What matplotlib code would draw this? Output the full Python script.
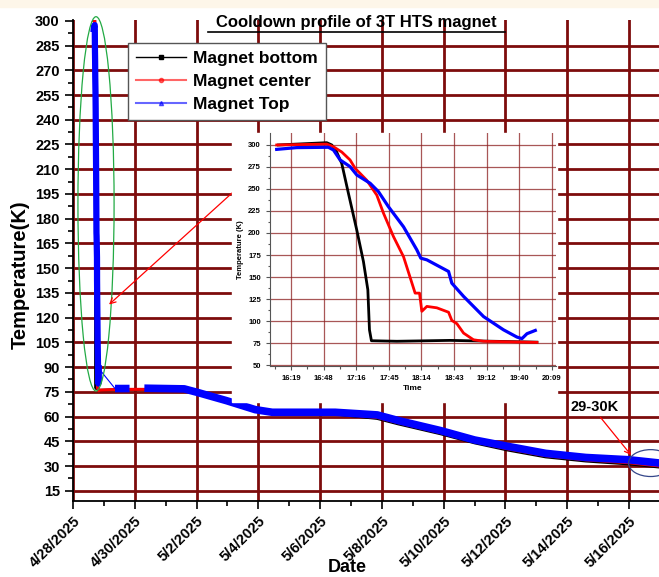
import matplotlib.pyplot as plt
from matplotlib.lines import Line2D
from matplotlib.patches import Ellipse, Rectangle
import numpy as np

plt.rcParams['font.family'] = ['Liberation Sans', 'DejaVu Sans']
plt.rcParams['font.weight'] = 'bold'

# cooldown on 4/28 (day fraction)
t_bottom = [0.6722, 0.6835, 0.7019, 0.7050, 0.7080, 0.7111, 0.7152, 0.7203, 0.7244, 0.7271, 0.7281, 0.7293, 0.7449, 0.7776, 0.8308]
T_bottom = [300, 301, 302.6, 300, 292, 279, 245, 203.5, 167.6, 135.5, 90, 77.6, 77, 78, 76]
t_center = [0.6712, 0.7019, 0.7060, 0.7111, 0.7162, 0.7193, 0.7264, 0.7326, 0.7367, 0.7428, 0.7490, 0.7561, 0.7588, 0.7602, 0.7633, 0.7694, 0.7766, 0.7786, 0.7817, 0.7858, 0.7919, 0.7981, 0.8308]
T_center = [300, 301, 298, 292, 283, 273.5, 260, 243, 222.5, 196, 173, 131.7, 131.7, 111, 116.6, 115, 110, 100.7, 97, 86.3, 78.7, 77, 75.7]
t_top = [0.6712, 0.6835, 0.7029, 0.7060, 0.7101, 0.7162, 0.7203, 0.7285, 0.7336, 0.7397, 0.7490, 0.7571, 0.7596, 0.7633, 0.7766, 0.7786, 0.7858, 0.7981, 0.8103, 0.8185, 0.8216, 0.8247, 0.8298]
T_top = [295, 297, 297.4, 294.3, 283, 275.4, 266, 256.5, 247, 230, 207, 181, 171.4, 169.5, 156.3, 143, 128, 105, 90, 81.8, 80, 85.6, 89.3]

# long term (days since 4/28/2025)
d_top = [1.36, 1.83, np.nan, 2.31, 3.6, 4.0, 4.96, 5.9, 6.45, 8.49, 9.85, 10.53, 11.9, 13.0, 14.06, 15.3, 16.6, 18.0, 19.0]
L_top = [77.0, 77.0, np.nan, 77.2, 76.8, 74.8, 69.7, 64.2, 62.6, 62.6, 61.0, 57.6, 51.5, 45.8, 42.0, 37.7, 35.2, 33.8, 31.8]
d_center = [0.85, 1.4, 2.3, 3.6, 4.0, 4.96, 5.9, 6.45, 8.49, 9.85, 10.53, 11.9, 13.0, 14.06, 15.3, 16.6, 18.0, 19.0]
L_center = [76.0, 76.5, 76.5, 76.5, 74.5, 69.3, 63.8, 62.0, 61.8, 59.5, 56.3, 50.3, 44.8, 40.5, 36.3, 33.8, 32.0, 30.0]
d_bottom = [0.85, 1.4, 2.3, 3.6, 4.0, 4.96, 5.9, 6.45, 8.49, 9.85, 10.53, 11.9, 13.0, 14.06, 15.3, 16.6, 18.0, 19.0]
L_bottom = [76.0, 76.3, 76.3, 76.3, 74.3, 69.0, 63.5, 61.8, 61.5, 58.8, 55.5, 49.5, 44.0, 39.7, 35.5, 33.0, 31.2, 29.3]

date_ticks = [0, 2, 4, 6, 8, 10, 12, 14, 16, 18]
date_labels = ['4/28/2025', '4/30/2025', '5/2/2025', '5/4/2025', '5/6/2025', '5/8/2025',
               '5/10/2025', '5/12/2025', '5/14/2025', '5/16/2025']
time_ticks = [0.68, 0.70, 0.72, 0.74, 0.76, 0.78, 0.80, 0.82, 0.84]
time_labels = ['16:19', '16:48', '17:16', '17:45', '18:14', '18:43', '19:12', '19:40', '20:09']

grid_c = '#7d0c0c'

fig = plt.figure(figsize=(6.59, 5.77), dpi=100)
fig.patches.append(Rectangle((0, 1 - 7 / 577), 1, 7 / 577, transform=fig.transFigure,
                             color='#fdf6e9', zorder=0))

ax = fig.add_axes([73 / 659, 1 - 501 / 577, 1 - 73 / 659, (501 - 20) / 577])
ax.plot(np.array(t_bottom + d_bottom), T_bottom + L_bottom, color='black', lw=2, zorder=3)
ax.plot(np.array(t_center + d_center), T_center + L_center, color='red', lw=2.2, zorder=4)
ax.plot(t_top, T_top, color='blue', lw=4.5, zorder=5)
ax.plot([t_top[-1], d_top[0]], [T_top[-1], L_top[0]], color='blue', lw=0.8, zorder=5)
ax.plot(d_top, L_top, color='blue', lw=5.5, zorder=5, solid_capstyle='butt')

ax.set_xlim(0, 18.97)
ax.set_ylim(8.8, 300.5)
ax.set_yticks(np.arange(15, 301, 15))
ax.set_yticks(np.arange(22.5, 300, 15), minor=True)
ax.set_xticks(date_ticks)
ax.set_xticklabels(date_labels, rotation=45, ha='right', rotation_mode='anchor')
ax.set_xticks(np.arange(1, 19, 2), minor=True)
ax.tick_params(axis='both', which='major', labelsize=10.5, length=6, width=1.2, direction='out')
ax.tick_params(axis='both', which='minor', length=3.5, width=1.2, direction='out')
for lab in ax.get_xticklabels() + ax.get_yticklabels():
    lab.set_fontweight('bold')
ax.grid(True, which='major', color=grid_c, lw=2.0)
ax.yaxis.get_gridlines()[-1].set_visible(False)
ax.set_axisbelow(True)
for s in ['top', 'right']:
    ax.spines[s].set_visible(False)
ax.spines['left'].set_linewidth(1.3)
ax.spines['bottom'].set_linewidth(1.3)
fig.text(20 / 659, 1 - 275 / 577, 'Temperature(K)', fontsize=14.5, fontweight='bold',
         rotation=90, ha='center', va='center')
fig.text(347 / 659, 1 - 567 / 577, 'Date', fontsize=13, fontweight='bold', ha='center', va='center')

# annotations
ax.add_patch(Ellipse((0.745, 189), 1.17, 227, fill=False, ec='#22aa44', lw=0.9, clip_on=False, zorder=6))
ax.add_patch(Ellipse((18.7, 31.8), 1.43, 16.3, fill=False, ec='#34468a', lw=0.9, clip_on=False, zorder=6))
ax.annotate('', xy=(1.10, 126.8), xytext=(5.45, 200.7),
            arrowprops=dict(arrowstyle='->', color='red', lw=0.9), zorder=6)
ax.annotate('', xy=(18.12, 35.4), xytext=(17.02, 60.8),
            arrowprops=dict(arrowstyle='->', color='red', lw=0.9), zorder=6)
ax.text(16.89, 65.7, '29-30K', fontsize=10.5, fontweight='bold', ha='center', va='center', zorder=6)

handles = [Line2D([], [], color='black', lw=1, marker='s', ms=2.5),
           Line2D([], [], color='red', lw=1.5, alpha=0.6, marker='o', ms=3, mfc='red', mec='red'),
           Line2D([], [], color='blue', lw=1.5, alpha=0.6, marker='^', ms=3, mfc='blue', mec='blue')]
leg = fig.legend(handles, ['Magnet bottom', 'Magnet center', 'Magnet Top'],
                 loc='upper left', bbox_to_anchor=(128 / 659, 1 - 43 / 577), borderaxespad=0,
                 prop={'weight': 'bold', 'size': 12.5}, fancybox=False, framealpha=1,
                 edgecolor='#555555', handlelength=2.9, handletextpad=0.4,
                 labelspacing=0.45, borderpad=0.45)
leg.get_frame().set_linewidth(1)

# title with underline
fig.text(356 / 659, 1 - 23 / 577, 'Cooldown profile of 3T HTS magnet', fontsize=12,
         fontweight='bold', ha='center', va='center')
fig.add_artist(Line2D([208 / 659, 505 / 659], [1 - 32 / 577] * 2, color='black', lw=1.2))

# inset
fig.patches.append(Rectangle((232 / 659, 1 - 402 / 577), (557 - 232) / 659, (402 - 133) / 577,
                             transform=fig.transFigure, color='white', zorder=2))
axi = fig.add_axes([270 / 659, 1 - 366 / 577, (556 - 270) / 659, (366 - 133) / 577], zorder=3)
axi.plot(t_bottom, T_bottom, color='black', lw=2)
axi.plot(t_center, T_center, color='red', lw=2)
axi.plot(t_top, T_top, color='blue', lw=2.3)
axi.set_xlim(0.6671, 0.8425)
axi.set_ylim(48.9, 313.6)
axi.set_xticks(time_ticks)
axi.set_xticklabels(time_labels)
axi.set_xticks(np.arange(0.67, 0.845, 0.02), minor=True)
axi.set_yticks(np.arange(50, 301, 25))
axi.set_yticks(np.arange(62.5, 300, 25), minor=True)
axi.tick_params(axis='both', which='major', labelsize=5.5, length=3, width=0.8, color='#555555')
axi.tick_params(axis='both', which='minor', length=1.8, width=0.8, color='#555555')
for lab in axi.get_xticklabels() + axi.get_yticklabels():
    lab.set_fontweight('bold')
axi.grid(True, which='major', color='#8b1f1f', lw=0.9, alpha=0.75)
axi.set_axisbelow(True)
for s in ['top', 'right']:
    axi.spines[s].set_visible(False)
for s in ['left', 'bottom']:
    axi.spines[s].set_color('#555555')
axi.set_xlabel('Time', fontsize=6, fontweight='bold', labelpad=2)
axi.set_ylabel('Temperature (K)', fontsize=5.5, fontweight='bold', labelpad=3)

fig.savefig('out.png', dpi=100)
